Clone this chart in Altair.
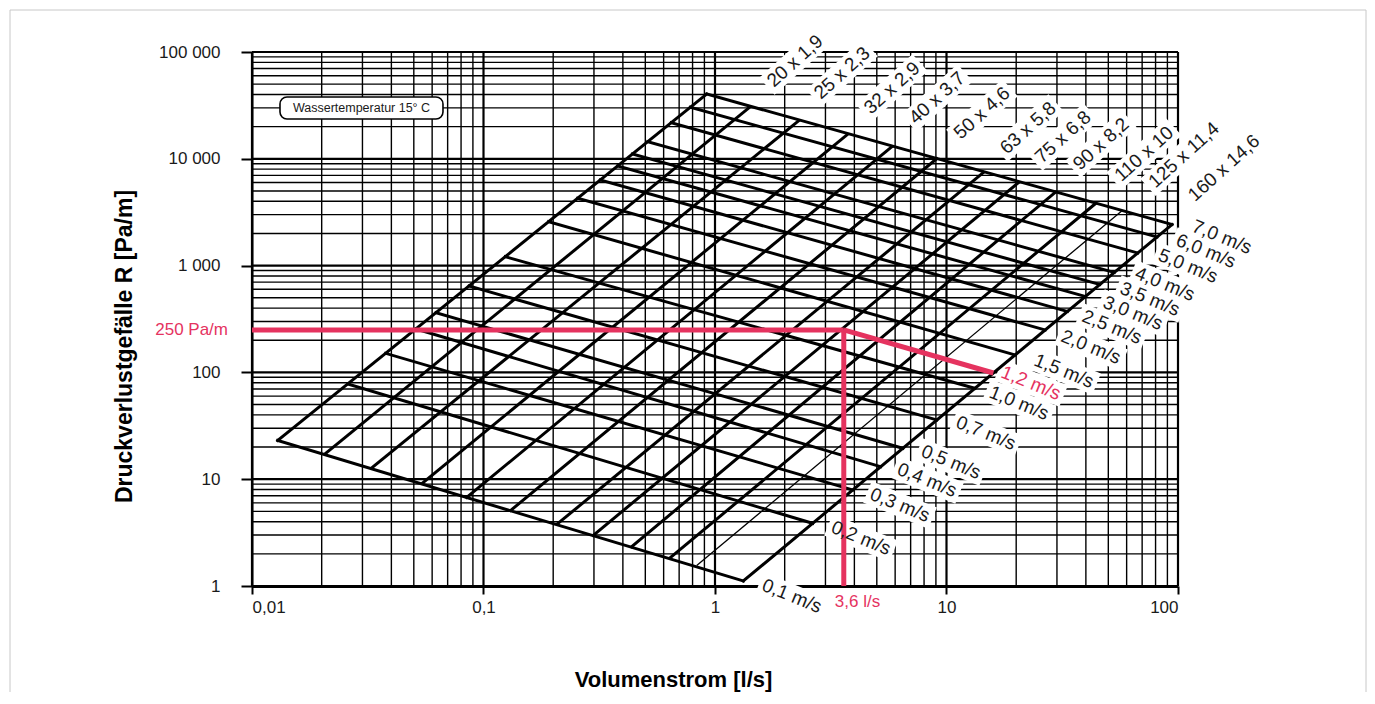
import altair as alt
import pandas as pd

# ---------------- axes ----------------
X_TICKS = [0.01, 0.1, 1, 10, 100]
X_TICK_LABELS = ["0,01", "0,1", "1", "10", "100"]
Y_TICKS = [1, 10, 100, 1000, 10000, 100000]
Y_TICK_LABELS = ["1", "10", "100", "1 000", "10 000", "100 000"]
MINOR_MULT = [2, 3, 4, 5, 6, 7, 8, 9]
X_TITLE = "Volumenstrom [l/s]"
Y_TITLE = "Druckverlustgefälle R [Pa/m]"

# ---------------- pipe lines (constant diameter) ----------------
pipe_line_names = ["20 x 1,9", "25 x 2,3", "32 x 2,9", "40 x 3,7", "50 x 4,6", "63 x 5,8",
                   "75 x 6,8", "90 x 8,2", "110 x 10", "125 x 11,4", "", "160 x 14,6"]
pipe_q_low = [0.01292, 0.02067, 0.03289, 0.05463, 0.0846, 0.1311, 0.2084, 0.298, 0.4367, 0.6392, 0.8337, 1.325]
pipe_r_low = [23.04, 17.22, 12.73, 9.213, 6.753, 5.105, 3.806, 2.977, 2.333, 1.829, 1.555, 1.114]
pipe_q_high = [0.9206, 1.406, 2.290, 3.706, 5.798, 9.072, 14.42, 20.43, 29.42, 43.80, 57.12, 94.21]
pipe_r_high = [40440, 30220, 22590, 16700, 12950, 10020, 7441, 5973, 4836, 3775, 3245, 2426]

pipe_labels = ["20 x 1,9", "25 x 2,3", "32 x 2,9", "40 x 3,7", "50 x 4,6", "63 x 5,8",
               "75 x 6,8", "90 x 8,2", "110 x 10", "125 x 11,4", "160 x 14,6"]
pipe_label_q = [2.216, 3.537, 5.816, 9.099, 14.23, 22.49, 31.86, 46.50, 71.31, 106.1, 158.0]
pipe_label_r = [82350, 63590, 46020, 37100, 26850, 19430, 16000, 13760, 11090, 10850, 8202]

# ---------------- velocity lines ----------------
vel_labels = ["7,0 m/s", "6,0 m/s", "5,0 m/s", "4,0 m/s", "3,5 m/s", "3,0 m/s", "2,5 m/s", "2,0 m/s",
              "1,5 m/s", "1,0 m/s", "0,7 m/s", "0,5 m/s", "0,4 m/s", "0,3 m/s", "0,2 m/s", "0,1 m/s"]
vel_q_left = [0.9206, 0.7814, 0.6469, 0.5121, 0.4397, 0.3796, 0.3192, 0.2550, 0.1911, 0.1242,
              0.0866, 0.06234, 0.05101, 0.0378, 0.02591, 0.01292]
vel_r_left = [40440, 30350, 21780, 14460, 11090, 8563, 6331, 4268, 2577, 1211,
              644.2, 362.2, 255.0, 150.9, 77.88, 23.04]
vel_q_right = [94.21, 81.18, 66.97, 53.06, 45.94, 39.81, 33.29, 26.67, 19.79, 13.28,
               9.088, 6.482, 5.197, 3.934, 2.642, 1.325]
vel_r_right = [2426, 1853, 1312, 861.7, 665.3, 513.6, 371.6, 249.5, 145.5, 70.98,
               35.84, 19.47, 13.09, 7.922, 3.865, 1.114]
vel_label_q = [154.9, 132.1, 110.5, 87.85, 75.68, 63.92, 51.86, 42.09, 32.18, 20.57,
               14.81, 10.46, 8.238, 6.296, 4.273, 2.151]
vel_label_r = [1853, 1370, 991.5, 672.5, 486.8, 359.9, 266.2, 172.9, 103.1, 51.70,
               27.08, 14.49, 9.829, 5.733, 2.815, 0.806]

# ---------------- worked example (pink) ----------------
ex_q1 = [0.01, 3.6, 3.6]
ex_r1 = [250, 250, 250]
ex_q2 = [3.6, 3.6, 15.94]
ex_r2 = [250, 1, 98.7]
ex_r_label = "250 Pa/m"
ex_q_label = "3,6 l/s"
ex_v_label = "1,2 m/s"
ex_v_label_q = 23.17
ex_v_label_r = 79.56

# ---------------- note box ----------------
note_text = "Wassertemperatur 15° C"
note_q = [0.01321, 0.06683]
note_r = [23590, 37900]
note_center = [0.02972, 29910]

# ---------------- styling ----------------
FONT = "Liberation Sans"
PINK = "#e5335f"
INK = "#1a1a1a"
FS_LAB = 19

xs = alt.Scale(type="log", domain=[0.01, 100], nice=False)
ys = alt.Scale(type="log", domain=[1, 100000], nice=False)


def lab_expr(vals, labs):
    s = "''"
    for v, l in reversed(list(zip(vals, labs))):
        s = f"(abs(datum.value - {v}) < {v}*1e-6) ? '{l}' : {s}"
    return s


x_axis = alt.Axis(values=X_TICKS, labelExpr=lab_expr(X_TICKS, X_TICK_LABELS), grid=False,
                  tickSize=8, tickWidth=2, tickColor="black", domainColor="black", domainWidth=3,
                  labelFont=FONT, labelFontSize=17, labelColor=INK, labelPadding=5,
                  title=X_TITLE, titleFont=FONT, titleFontSize=22, titleFontWeight="bold",
                  titleColor="black", titleX=421, titleY=93, titleBaseline="middle", titleAlign="center")
y_axis = alt.Axis(values=Y_TICKS, labelExpr=lab_expr(Y_TICKS, Y_TICK_LABELS), grid=False,
                  tickSize=11, tickWidth=2, tickColor="black", domainColor="black", domainWidth=2,
                  labelFont=FONT, labelFontSize=17, labelColor=INK, labelPadding=21,
                  title=Y_TITLE, titleFont=FONT, titleFontSize=23, titleFontWeight="bold",
                  titleColor="black", titleX=-128, titleY=294, titleAngle=270,
                  titleBaseline="middle", titleAlign="center")


def X(f):
    return alt.X(f, type="quantitative", scale=xs, axis=x_axis)


def Y(f):
    return alt.Y(f, type="quantitative", scale=ys, axis=y_axis)


CW = {' ': .278, ',': .278, 'x': .5, 'm': .833, '/': .278, 's': .5}


def text_w(s, fs):
    return sum(CW.get(c, .556) for c in s) * fs


def box_df(texts, qs, rs, fs):
    rows = []
    for t, q, r in zip(texts, qs, rs):
        w = text_w(t, fs) + 8
        h = fs + 4
        k = h / w
        rows.append({"q": q, "r": r, "sz": w * w,
                     "path": f"M-1,-{k:.4f}L1,-{k:.4f}L1,{k:.4f}L-1,{k:.4f}Z"})
    return pd.DataFrame(rows)


minor_x = [m * d for d in X_TICKS[:-1] for m in MINOR_MULT]
minor_y = [m * d for d in Y_TICKS[:-1] for m in MINOR_MULT]

frame = alt.Chart(alt.Data(values=[{}])).mark_rect(fill="transparent", stroke="#c8c8c8", strokeWidth=1).encode(
    x=alt.value(-242), x2=alt.value(1114), y=alt.value(-42), y2=alt.value(720))

vminor = alt.Chart(pd.DataFrame({"q": minor_x})).mark_rule(color="black", strokeWidth=1.4).encode(x=X("q"))
hminor = alt.Chart(pd.DataFrame({"r": minor_y})).mark_rule(color="black", strokeWidth=1.4).encode(y=Y("r"))
vmajor = alt.Chart(pd.DataFrame({"q": X_TICKS})).mark_rule(color="black", strokeWidth=2.2).encode(x=X("q"))
hmajor = alt.Chart(pd.DataFrame({"r": Y_TICKS})).mark_rule(color="black", strokeWidth=2.2).encode(y=Y("r"))


def boxes(df, angle):
    return alt.Chart(df).mark_point(filled=True, fill="white", strokeWidth=0, opacity=1, angle=angle).encode(
        x=X("q"), y=Y("r"),
        shape=alt.Shape("path:N", scale=None, legend=None),
        size=alt.Size("sz:Q", scale=None, legend=None))


pipe_boxes = boxes(box_df(pipe_labels, pipe_label_q, pipe_label_r, FS_LAB), 318)
vel_boxes = boxes(box_df(vel_labels + [ex_v_label], vel_label_q + [ex_v_label_q],
                         vel_label_r + [ex_v_label_r], FS_LAB), 22)

note_box = alt.Chart(pd.DataFrame({"q1": [note_q[0]], "q2": [note_q[1]], "r1": [note_r[0]], "r2": [note_r[1]]})).mark_rect(
    fill="white", stroke="black", strokeWidth=1.6, cornerRadius=7).encode(
    x=X("q1"), x2="q2", y=Y("r1"), y2="r2")
note_txt = alt.Chart(pd.DataFrame({"q": [note_center[0]], "r": [note_center[1]], "t": [note_text]})).mark_text(
    font=FONT, fontSize=12.5, color=INK, align="center", baseline="middle").encode(
    x=X("q"), y=Y("r"), text="t:N")

pipes_df = pd.DataFrame({"q1": pipe_q_low, "r1": pipe_r_low, "q2": pipe_q_high, "r2": pipe_r_high,
                         "name": pipe_line_names})
pipes_main = alt.Chart(pipes_df[pipes_df["name"] != ""]).mark_rule(color="black", strokeWidth=3, strokeCap="square").encode(
    x=X("q1"), x2="q2", y=Y("r1"), y2="r2")
pipes_aux = alt.Chart(pipes_df[pipes_df["name"] == ""]).mark_rule(color="black", strokeWidth=1.3).encode(
    x=X("q1"), x2="q2", y=Y("r1"), y2="r2")

vel_df = pd.DataFrame({"q1": vel_q_left, "r1": vel_r_left, "q2": vel_q_right, "r2": vel_r_right, "v": vel_labels})
vels = alt.Chart(vel_df).mark_rule(color="black", strokeWidth=3, strokeCap="square").encode(
    x=X("q1"), x2="q2", y=Y("r1"), y2="r2")

ex_df = pd.DataFrame({"q1": ex_q1, "r1": ex_r1, "q2": ex_q2, "r2": ex_r2})
example = alt.Chart(ex_df).mark_rule(color=PINK, strokeWidth=5).encode(
    x=X("q1"), x2="q2", y=Y("r1"), y2="r2")


def labels(texts, qs, rs, angle, color=INK):
    df = pd.DataFrame({"q": qs, "r": rs, "t": texts})
    return alt.Chart(df).mark_text(font=FONT, fontSize=FS_LAB, color=color, angle=angle,
                                   align="center", baseline="middle").encode(
        x=X("q"), y=Y("r"), text="t:N")


pipe_txt = labels(pipe_labels, pipe_label_q, pipe_label_r, 318)
vel_txt = labels(vel_labels, vel_label_q, vel_label_r, 22)
ex_v_txt = labels([ex_v_label], [ex_v_label_q], [ex_v_label_r], 22, PINK)

ex_r_txt = alt.Chart(pd.DataFrame({"q": [ex_q1[0]], "r": [ex_r1[0]], "t": [ex_r_label]})).mark_text(
    font=FONT, fontSize=17, color=PINK, align="right", baseline="middle", dx=-24).encode(
    x=X("q"), y=Y("r"), text="t:N")
ex_q_txt = alt.Chart(pd.DataFrame({"q": [ex_q2[1]], "r": [ex_r2[1]], "t": [ex_q_label]})).mark_text(
    font=FONT, fontSize=17, color=PINK, align="left", baseline="top", dx=-9, dy=8).encode(
    x=X("q"), y=Y("r"), text="t:N")

chart = alt.layer(
    frame, vminor, hminor, vmajor, hmajor,
    pipe_boxes, vel_boxes, note_box, note_txt,
    pipes_aux, pipes_main, vels, example,
    pipe_txt, vel_txt, ex_v_txt, ex_r_txt, ex_q_txt,
).properties(
    width=926, height=534,
    autosize=alt.AutoSizeParams(type="none"),
    padding={"left": 244, "top": 44, "right": 189, "bottom": 106},
    background="white",
).configure_view(stroke=None)

chart.save("out.html", embed_options={"renderer": "svg", "actions": False})
